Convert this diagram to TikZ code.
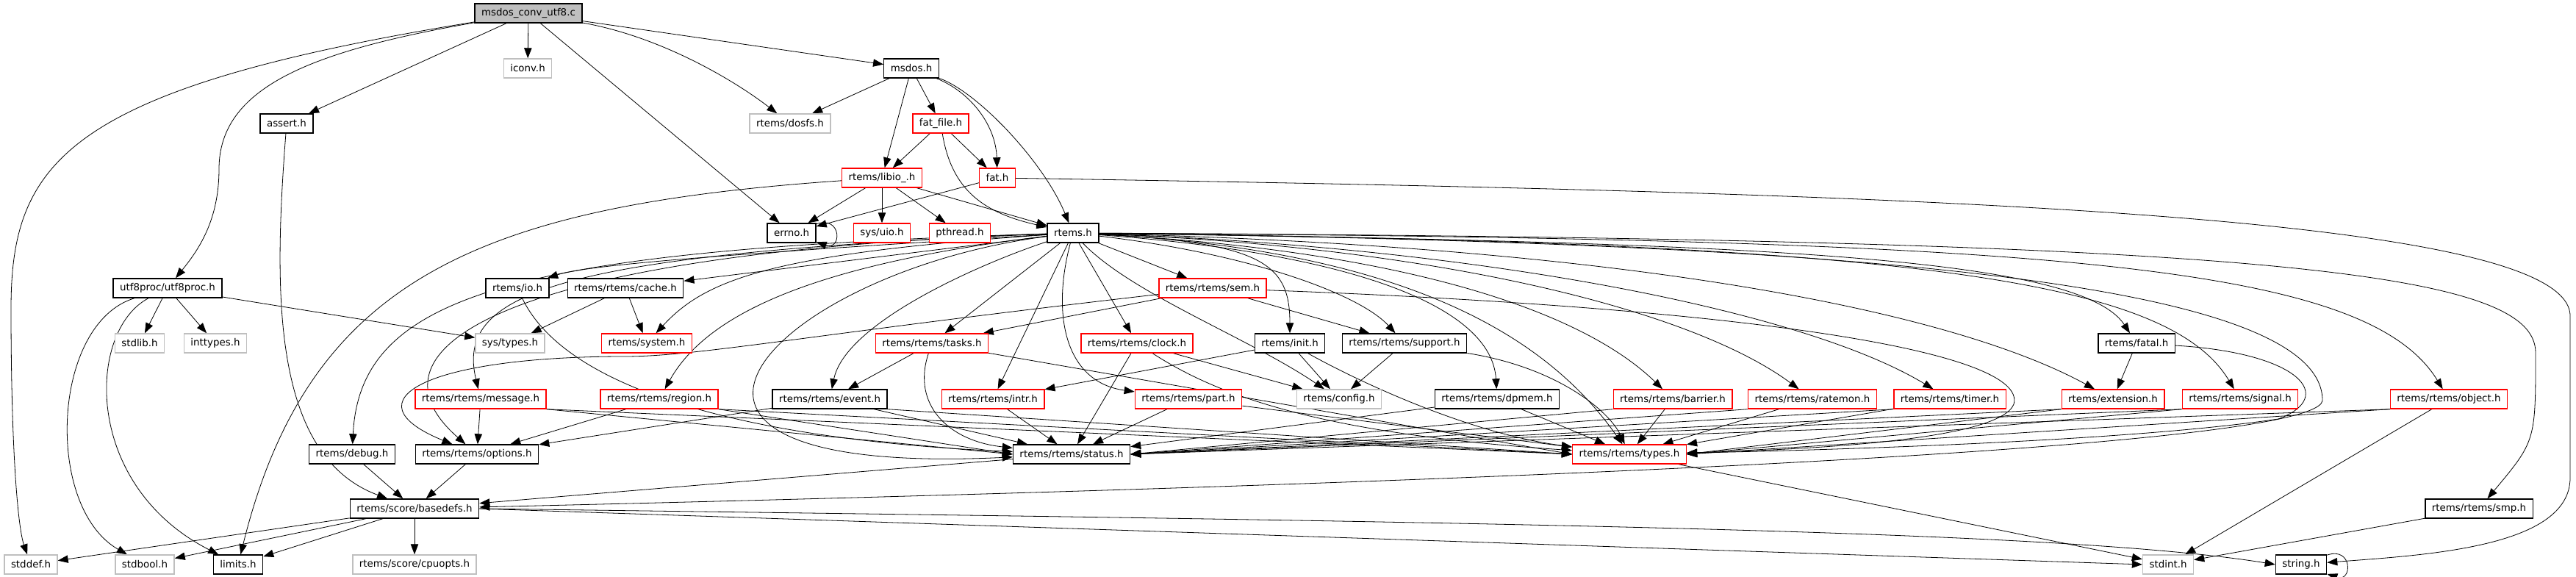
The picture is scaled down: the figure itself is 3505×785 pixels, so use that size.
\documentclass[tikz,border=0pt]{standalone}
\usepackage{fontspec}
\newfontfamily\graphfont{DejaVu Sans}
\usetikzlibrary{arrows.meta,backgrounds}
\definecolor{edgeblue}{RGB}{25,25,112}
\definecolor{extgray}{RGB}{191,191,191}
\tikzset{
  hdr/.style={draw=black, line width=0.7pt, fill=white,
    font={\graphfont\fontsize{6.7pt}{8pt}\selectfont},
    inner xsep=4.5pt, inner ysep=0pt, minimum height=13pt},
  srcfile/.style={hdr, fill=extgray},
  extfile/.style={hdr, draw=extgray},
  cutfile/.style={hdr, draw=red},
  inc/.style={-{Triangle[length=7pt,width=5.2pt]}, draw=edgeblue, fill=edgeblue, line width=0.65pt},
}
\begin{document}
\begin{tikzpicture}[x=0.5pt,y=-0.5pt]
      \useasboundingbox (0,0) rectangle (3505,785);
      \draw
        (719,18) node[srcfile] (src) {msdos\_conv\_utf8.c}
        (718,93) node[extfile] (iconv) {iconv.h}
        (1240,93) node[hdr] (msdos) {msdos.h}
        (390,168) node[hdr] (assert) {assert.h}
        (1075,168) node[extfile] (dosfs) {rtems/dosfs.h}
        (1280,168) node[cutfile] (fatfile) {fat\_file.h}
        (1200,242) node[cutfile] (libio) {rtems/libio\_.h}
        (1357,242) node[cutfile] (fat) {fat.h}
        (1077,317) node[hdr] (errno) {errno.h}
        (1200,317) node[cutfile] (uio) {sys/uio.h}
        (1306,317) node[cutfile] (pthread) {pthread.h}
        (1460,317) node[hdr] (rtems) {rtems.h}
        (228,392) node[hdr] (utf8proc) {utf8proc/utf8proc.h}
        (704,392) node[hdr] (io) {rtems/io.h}
        (851,392) node[hdr] (cache) {rtems/rtems/cache.h}
        (1650,392) node[cutfile] (sem) {rtems/rtems/sem.h}
        (190,467) node[extfile] (stdlib) {stdlib.h}
        (293,467) node[extfile] (inttypes) {inttypes.h}
        (694,467) node[extfile] (systypes) {sys/types.h}
        (880,467) node[cutfile] (system) {rtems/system.h}
        (1268,467) node[cutfile] (tasks) {rtems/rtems/tasks.h}
        (1547,467) node[cutfile] (clock) {rtems/rtems/clock.h}
        (1755,467) node[hdr] (init) {rtems/init.h}
        (1911,467) node[hdr] (support) {rtems/rtems/support.h}
        (2907,467) node[hdr] (fatal) {rtems/fatal.h}
        (654,543) node[cutfile] (message) {rtems/rtems/message.h}
        (897,543) node[cutfile] (region) {rtems/rtems/region.h}
        (1129,543) node[hdr] (event) {rtems/rtems/event.h}
        (1351,543) node[cutfile] (intr) {rtems/rtems/intr.h}
        (1617,543) node[cutfile] (part) {rtems/rtems/part.h}
        (1822,543) node[extfile] (config) {rtems/config.h}
        (2037,543) node[hdr] (dpmem) {rtems/rtems/dpmem.h}
        (2276,543) node[cutfile] (barrier) {rtems/rtems/barrier.h}
        (2466,543) node[cutfile] (ratemon) {rtems/rtems/ratemon.h}
        (2653,543) node[cutfile] (timer) {rtems/rtems/timer.h}
        (2875,543) node[cutfile] (extension) {rtems/extension.h}
        (3048,543) node[cutfile] (signal) {rtems/rtems/signal.h}
        (3332,543) node[cutfile] (object) {rtems/rtems/object.h}
        (479,618) node[hdr] (debug) {rtems/debug.h}
        (649,618) node[hdr] (options) {rtems/rtems/options.h}
        (1458,618) node[hdr] (status) {rtems/rtems/status.h}
        (2217,618) node[cutfile] (types) {rtems/rtems/types.h}
        (564,692) node[hdr] (basedefs) {rtems/score/basedefs.h}
        (3373,692) node[hdr] (smp) {rtems/rtems/smp.h}
        (42,768) node[extfile] (stddef) {stddef.h}
        (197,768) node[extfile] (stdbool) {stdbool.h}
        (324,768) node[hdr] (limits) {limits.h}
        (564,768) node[extfile] (cpuopts) {rtems/score/cpuopts.h}
        (2950,768) node[extfile] (stdint) {stdint.h}
        (3131,768) node[hdr] (string) {string.h};
      \begin{scope}[on background layer, inc]
        % msdos_conv_utf8.c
        \draw (src) .. controls (90,120) and (15,220) .. (15,420) .. controls (15,620) and (25,720) .. (stddef);
        \draw (src) .. controls (420,70) and (298,120) .. (298,230) .. controls (298,300) and (270,340) .. (utf8proc);
        \draw (src) to (assert);
        \draw (src) to (iconv);
        \draw (src) to (errno);
        \draw (src) .. controls (900,50) and (1000,110) .. (dosfs);
        \draw (src) to (msdos);
        % msdos.h
        \draw (msdos) to (dosfs);
        \draw (msdos) to (libio);
        \draw (msdos) to (fatfile);
        \draw (msdos) .. controls (1320,125) and (1355,170) .. (fat);
        \draw (msdos) .. controls (1330,125) and (1420,220) .. (rtems);
        % fat_file.h
        \draw (fatfile) to (libio);
        \draw (fatfile) to (fat);
        \draw (fatfile) .. controls (1295,260) and (1340,290) .. (rtems);
        % rtems/libio_.h
        \draw (libio) to (errno);
        \draw (libio) to (uio);
        \draw (libio) to (pthread);
        \draw (libio) to (rtems);
        \draw (libio) .. controls (650,280) and (420,380) .. (limits);
        % fat.h
        \draw (fat) to (errno);
        \draw (fat) .. controls (2600,262) and (3497,290) .. (3497,430) -- (3497,650) .. controls (3497,745) and (3300,755) .. (string);
        \draw (errno.20) .. controls +(35,-12) and +(35,12) .. (errno.-20);
        \draw (string.20) .. controls +(35,-12) and +(35,12) .. (string.-20);
        % assert.h, utf8proc.h, io.h, cache.h
        \draw (assert) .. controls (372,400) and (370,620) .. (basedefs);
        \draw (utf8proc) to (stdlib);
        \draw (utf8proc) to (inttypes);
        \draw (utf8proc) to (systypes);
        \draw (utf8proc) .. controls (70,440) and (60,690) .. (stdbool);
        \draw (utf8proc) .. controls (118,450) and (112,660) .. (limits);
        \draw (io) .. controls (775,540) and (1050,600) .. (status);
        \draw (cache) to (systypes);
        \draw (cache) to (system);
        % rtems.h
        \draw (rtems) .. controls (1000,345) and (800,360) .. (io);
        \draw (rtems) to (cache);
        \draw (rtems) .. controls (1050,345) and (960,380) .. (system);
        \draw (rtems) .. controls (700,340) and (490,400) .. (debug);
        \draw (rtems) .. controls (700,342) and (480,470) .. (options);
        \draw (rtems) .. controls (750,345) and (620,400) .. (message);
        \draw (rtems) .. controls (1100,360) and (960,430) .. (region);
        \draw (rtems) .. controls (1330,360) and (1150,440) .. (event);
        \draw (rtems) .. controls (1050,370) and (780,650) .. (status);
        \draw (rtems) to (tasks);
        \draw (rtems) to (intr);
        \draw (rtems) .. controls (1430,430) and (1450,520) .. (part);
        \draw (rtems) to (clock);
        \draw (rtems) .. controls (1540,400) and (1700,460) .. (config);
        \draw (rtems) to (sem);
        \draw (rtems) .. controls (1720,330) and (1755,360) .. (init);
        \draw (rtems) .. controls (1700,345) and (1850,400) .. (support);
        \draw (rtems) .. controls (1850,345) and (2030,420) .. (dpmem);
        \draw (rtems) .. controls (1900,340) and (2150,420) .. (barrier);
        \draw (rtems) .. controls (1950,335) and (2300,420) .. (ratemon);
        \draw (rtems) .. controls (2000,335) and (2450,420) .. (timer);
        \draw (rtems) .. controls (2200,335) and (2650,420) .. (extension);
        \draw (rtems) .. controls (2400,330) and (2830,350) .. (fatal);
        \draw (rtems) .. controls (2600,330) and (2950,380) .. (signal);
        \draw (rtems) .. controls (2800,325) and (3220,360) .. (object);
        \draw (rtems) .. controls (3100,325) and (3450,370) .. (3450,480) .. controls (3450,600) .. (smp);
        \draw (rtems) .. controls (1900,340) and (2100,450) .. (types);
        \draw (rtems) .. controls (2500,330) and (3160,380) .. (3160,545) .. controls (3150,625) and (1500,670) .. (basedefs);
        % rtems/rtems/sem.h
        \draw (sem) .. controls (1100,455) and (950,485) .. (850,485) .. controls (580,485) and (470,545) .. (options);
        \draw (sem) to (tasks);
        \draw (sem) to (support);
        \draw (sem) .. controls (2400,420) and (2760,480) .. (2740,550) .. controls (2720,600) and (2450,612) .. (types);
        % row of rtems/rtems headers
        \draw (tasks) to (event);
        \draw (tasks) .. controls (1240,550) and (1290,600) .. (status);
        \draw (tasks) to (types.west);
        \draw (clock) to (status);
        \draw (clock) to (config);
        \draw (clock) .. controls (1660,540) and (1800,590) .. (types);
        \draw (init) to (intr);
        \draw (init) to (config);
        \draw (init) .. controls (1850,520) and (2000,590) .. (types);
        \draw (support) to (config);
        \draw (support) .. controls (2120,500) and (2190,560) .. (types);
        \draw (fatal) to (extension);
        \draw (fatal) .. controls (3130,480) and (3180,540) .. (3100,570) .. controls (2900,600) and (2500,612) .. (types);
        \draw (message) to (options);
        \draw (message.south east) to (status.west);
        \draw (message.south east) to (types.west);
        \draw (region) to (options);
        \draw (region.south east) to (status.west);
        \draw (region.south east) to (types.west);
        \draw (event) to (options);
        \draw (event) to (status);
        \draw (event.south east) to (types.west);
        \draw (intr) to (status);
        \draw (part) to (status);
        \draw (part) to (types);
        \draw (dpmem) to (status);
        \draw (dpmem) to (types);
        \draw (barrier.south west) to (status.east);
        \draw (barrier) to (types);
        \draw (ratemon.south west) to (status.east);
        \draw (ratemon) to (types);
        \draw (timer.south west) to (status.east);
        \draw (timer) to (types);
        \draw (extension.south west) to (status.east);
        \draw (extension.south west) to (types.east);
        \draw (signal.south west) to (status.east);
        \draw (signal.south west) to (types.east);
        \draw (object.south west) to (status.east);
        \draw (object.south west) to (types.east);
        \draw (object) to (stdint);
        % lower rows
        \draw (debug) to (basedefs);
        \draw (options) to (basedefs);
        \draw (status) to (basedefs);
        \draw (types) to (stdint);
        \draw (smp) to (stdint);
        \draw (basedefs) to (stddef);
        \draw (basedefs) to (stdbool);
        \draw (basedefs) to (limits);
        \draw (basedefs) to (cpuopts);
        \draw (basedefs.east) to (stdint.west);
        \draw (basedefs.east) .. controls (2000,710) and (2800,720) .. (string.west);
      \end{scope}
    \end{tikzpicture}
\end{document}
